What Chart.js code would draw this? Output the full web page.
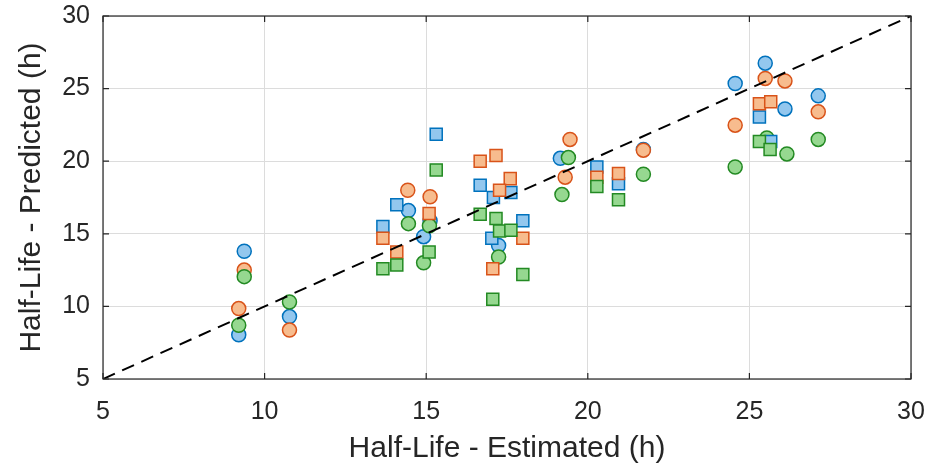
<!DOCTYPE html>
<html>
<head>
<meta charset="utf-8">
<script src="https://cdn.jsdelivr.net/npm/chart.js@4"></script>
<style>
  body { margin: 0; background: #fff; }
  #wrap { width: 938px; height: 471px; }
</style>
</head>
<body>
<div id="wrap"><canvas id="scatterChart"></canvas></div>
<script>
// tick labels
var tickValues = [5, 10, 15, 20, 25, 30];

// circles
var blueCircleX = [9.37, 9.2, 10.77, 14.45, 14.92, 15.12, 17.24, 19.15, 21.72, 24.56, 25.49, 26.1, 27.13];
var blueCircleY = [13.8, 8.05, 9.3, 16.6, 14.8, 15.9, 14.2, 20.2, 20.8, 25.35, 26.75, 23.6, 24.5];
var orangeCircleX = [9.37, 9.2, 10.77, 14.43, 15.12, 19.45, 19.3, 21.72, 24.56, 25.49, 26.1, 27.13];
var orangeCircleY = [12.5, 9.85, 8.37, 18.0, 17.55, 21.5, 18.9, 20.76, 22.48, 25.7, 25.53, 23.4];
var greenCircleX = [9.37, 9.2, 10.77, 14.45, 14.92, 15.1, 17.24, 19.4, 19.2, 21.72, 24.56, 25.54, 26.16, 27.13];
var greenCircleY = [12.05, 8.7, 10.3, 15.7, 13.0, 15.55, 13.4, 20.25, 17.7, 19.1, 19.6, 21.6, 20.5, 21.5];

// squares
var blueSquareX = [13.66, 14.09, 15.31, 16.67, 17.08, 17.62, 17.99, 17.03, 20.28, 20.95, 25.31, 25.66];
var blueSquareY = [15.5, 17.0, 21.85, 18.35, 17.5, 17.85, 15.9, 14.7, 19.6, 18.45, 23.05, 21.35];
var orangeSquareX = [13.66, 14.09, 15.09, 16.67, 17.16, 17.6, 17.27, 17.99, 17.06, 20.28, 20.95, 25.31, 25.66];
var orangeSquareY = [14.7, 13.75, 16.4, 20.0, 20.4, 18.8, 18.0, 14.7, 12.6, 18.9, 19.15, 23.95, 24.1];
var greenSquareX = [13.66, 14.09, 15.31, 15.09, 16.67, 17.16, 17.27, 17.62, 17.99, 17.06, 20.28, 20.95, 25.31, 25.64];
var greenSquareY = [12.6, 12.85, 19.4, 13.75, 16.35, 16.05, 15.2, 15.25, 12.2, 10.5, 18.25, 17.35, 21.35, 20.8];

// identity line
var lineX = [5, 30];
var lineY = [5, 30];

function pts(xs, ys) {
  return xs.map(function (x, i) { return { x: x, y: ys[i] }; });
}

function markers(xs, ys, style, fill, edge) {
  return {
    type: "scatter",
    data: pts(xs, ys),
    pointStyle: style,
    pointRadius: style === "rect" ? 8.5 : 7,
    pointBackgroundColor: fill,
    pointBorderColor: edge,
    pointBorderWidth: 1.5,
  };
}

var BLUE = ["#93C7EE", "#0072BD"];
var ORANGE = ["#F7BC8E", "#D95319"];
var GREEN = ["#96D890", "#238A23"];

// draws the box and the inner tick marks
var boxPlugin = {
  id: "box",
  afterDatasetsDraw: function (chart) {
    var c = chart.ctx, a = chart.chartArea;
    var xs = chart.scales.x, ys = chart.scales.y;
    c.save();
    c.strokeStyle = "#262626";
    c.lineWidth = 1.2;
    c.strokeRect(a.left, a.top, a.right - a.left, a.bottom - a.top);
    c.beginPath();
    tickValues.forEach(function (v) {
      var px = xs.getPixelForValue(v);
      c.moveTo(px, a.bottom); c.lineTo(px, a.bottom - 6);
      c.moveTo(px, a.top); c.lineTo(px, a.top + 6);
      var py = ys.getPixelForValue(v);
      c.moveTo(a.left, py); c.lineTo(a.left + 6, py);
      c.moveTo(a.right, py); c.lineTo(a.right - 6, py);
    });
    c.stroke();
    c.restore();
  },
};

var ctx = document.getElementById("scatterChart").getContext("2d");

var MyChart = new Chart(ctx, {
  type: "scatter",
  data: {
    datasets: [
      {
        type: "line",
        data: pts(lineX, lineY),
        borderColor: "#000",
        borderWidth: 2,
        borderDash: [13, 8],
        pointRadius: 0,
        fill: false,
      },
      markers(greenSquareX, greenSquareY, "rect", GREEN[0], GREEN[1]),
      markers(orangeSquareX, orangeSquareY, "rect", ORANGE[0], ORANGE[1]),
      markers(blueSquareX, blueSquareY, "rect", BLUE[0], BLUE[1]),
      markers(greenCircleX, greenCircleY, "circle", GREEN[0], GREEN[1]),
      markers(orangeCircleX, orangeCircleY, "circle", ORANGE[0], ORANGE[1]),
      markers(blueCircleX, blueCircleY, "circle", BLUE[0], BLUE[1]),
    ],
  },
  options: {
    responsive: true,
    maintainAspectRatio: false,
    animation: false,
    layout: { padding: { top: 16, right: 27, left: 0, bottom: 0 } },
    plugins: {
      legend: { display: false },
      tooltip: { enabled: false },
    },
    scales: {
      x: {
        type: "linear",
        min: 5,
        max: 30,
        afterBuildTicks: function (s) {
          s.ticks = tickValues.map(function (v) { return { value: v }; });
        },
        afterFit: function (s) {
          s.height = 92;
          s.paddingLeft = 0;
          s.paddingRight = 0;
        },
        grid: { color: "#DCDCDC", lineWidth: 1, drawTicks: false },
        border: { display: false },
        ticks: {
          padding: 18,
          color: "#262626",
          font: { family: "Liberation Sans, Arial", size: 25 },
        },
        title: {
          display: true,
          text: "Half-Life - Estimated (h)",
          color: "#262626",
          font: { family: "Liberation Sans, Arial", size: 30 },
          padding: { top: 0, bottom: 4 },
        },
      },
      y: {
        type: "linear",
        min: 5,
        max: 30,
        afterBuildTicks: function (s) {
          s.ticks = tickValues.map(function (v) { return { value: v }; });
        },
        afterFit: function (s) {
          s.width = 103;
          s.paddingTop = 0;
          s.paddingBottom = 0;
        },
        grid: { color: "#DCDCDC", lineWidth: 1, drawTicks: false },
        border: { display: false },
        ticks: {
          padding: 13,
          color: "#262626",
          font: { family: "Liberation Sans, Arial", size: 25 },
        },
        title: {
          display: true,
          text: "Half-Life - Predicted (h)",
          color: "#262626",
          font: { family: "Liberation Sans, Arial", size: 30 },
          padding: { top: 14, bottom: 0 },
        },
      },
    },
  },
  plugins: [boxPlugin],
});
</script>
</body>
</html>
